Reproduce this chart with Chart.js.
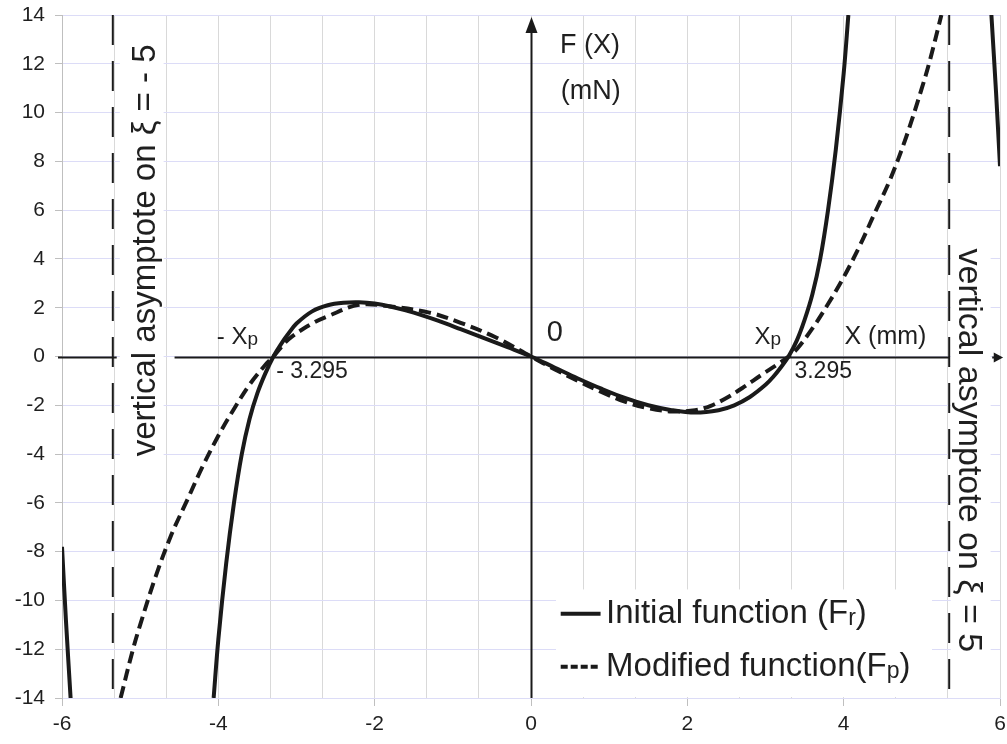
<!DOCTYPE html>
<html>
<head>
<meta charset="utf-8">
<script src="https://cdn.jsdelivr.net/npm/chart.js@4.4.1/dist/chart.umd.min.js"></script>
<style>
html,body{margin:0;padding:0;background:#fff;}
#wrap{width:1007px;height:744px;position:relative;}
</style>
</head>
<body>
<div id="wrap"><canvas id="c"></canvas></div>
<script>
// ---------- data ----------
const xTickValues = [-6, -4, -2, 0, 2, 4, 6];
const xTickLabels = ['-6', '-4', '-2', '0', '2', '4', '6'];
const xGridStep = 2 / 3;
const yTickValues = [-14, -12, -10, -8, -6, -4, -2, 0, 2, 4, 6, 8, 10, 12, 14];
const yTickLabels = ['-14', '-12', '-10', '-8', '-6', '-4', '-2', '0', '2', '4', '6', '8', '10', '12', '14'];
const asymptoteX = [-5.35, 5.35];

// Initial function (Fr) – central branch
const initialMidX = [-4.06, -4.0, -3.9, -3.8, -3.7, -3.6, -3.5, -3.4, -3.295, -3.2, -3.1, -3.0, -2.8, -2.6, -2.4, -2.2, -2.0, -1.8, -1.5, -1.2, -0.9, -0.6, -0.3, 0,
                     0.3, 0.6, 0.9, 1.2, 1.5, 1.8, 2.1, 2.4, 2.6, 2.8, 3.0, 3.1, 3.2, 3.295, 3.4, 3.5, 3.6, 3.7, 3.8, 3.9, 4.0, 4.06];
const initialMidY = [-14, -11.6, -8.5, -6.0, -4.0, -2.55, -1.5, -0.7, 0, 0.5, 0.95, 1.35, 1.85, 2.1, 2.2, 2.22, 2.17, 2.05, 1.8, 1.48, 1.12, 0.75, 0.38, 0,
                     -0.45, -0.9, -1.32, -1.7, -2.0, -2.2, -2.3, -2.2, -2.0, -1.66, -1.16, -0.83, -0.43, 0, 0.65, 1.5, 2.55, 4.0, 6.0, 8.5, 11.6, 14];
// Initial function – outer branches beyond the asymptotes
const initialLeftX = [-6.0, -5.95, -5.89];
const initialLeftY = [-7.8, -10.8, -14];
const initialRightX = [5.89, 5.95, 6.0];
const initialRightY = [14, 10.8, 7.8];

// Modified function (Fp)
const modifiedX = [-5.25, -5.1, -5.0, -4.8, -4.6, -4.4, -4.2, -4.0, -3.8, -3.6, -3.4, -3.295, -3.1, -2.8, -2.6, -2.2, -1.8, -1.3, -0.9, -0.46, 0,
                   0.3, 0.6, 0.9, 1.2, 1.5, 1.8, 2.1, 2.3, 2.5, 2.7, 2.95, 3.15, 3.295, 3.4, 3.6, 3.8, 4.0, 4.2, 4.4, 4.6, 4.8, 5.0, 5.1, 5.25];
const modifiedY = [-14, -12.1, -11.0, -9.0, -7.3, -5.9, -4.5, -3.25, -2.15, -1.15, -0.35, 0, 0.71, 1.35, 1.65, 2.12, 2.05, 1.8, 1.38, 0.8, 0,
                   -0.52, -1.0, -1.45, -1.85, -2.12, -2.25, -2.2, -2.02, -1.7, -1.3, -0.75, -0.33, 0, 0.3, 1.15, 2.15, 3.25, 4.5, 5.9, 7.3, 9.0, 11.0, 12.1, 14];

const legendLabels = ['Initial function (F', 'Modified function(F'];
const legendSubs = ['r', 'p'];

const FONT = "'Liberation Sans', Arial, sans-serif";
const TEXT = '#1f1f1f';
const INK = '#1a1a1a';

function pts(xs, ys) { return xs.map((x, i) => ({ x: x, y: ys[i] })); }

const gridValues = [];
for (let i = 0; i <= 18; i++) gridValues.push(-6 + i * xGridStep);

function isLabelled(v) { return xTickValues.some(t => Math.abs(t - v) < 1e-6); }

// ---------- annotation plugin ----------
function runs(ctx, x, y, parts, align) {
  let total = 0;
  parts.forEach(p => { ctx.font = p[1] + 'px ' + FONT; total += ctx.measureText(p[0]).width; });
  let cx = align === 'center' ? x - total / 2 : x;
  parts.forEach(p => {
    ctx.font = p[1] + 'px ' + FONT;
    ctx.textAlign = 'left';
    ctx.fillText(p[0], cx, y + (p[2] || 0));
    cx += ctx.measureText(p[0]).width;
  });
}

const annot = {
  id: 'annot',
  beforeDatasetsDraw(chart) {
    const ctx = chart.ctx, xs = chart.scales.x, ys = chart.scales.y, a = chart.chartArea;
    const X = v => xs.getPixelForValue(v), Y = v => ys.getPixelForValue(v);
    ctx.save();
    ctx.fillStyle = '#ffffff';
    // legend box
    ctx.fillRect(X(0.32), Y(-9.55), X(5.13) - X(0.32), Y(-13.96) - Y(-9.55));
    // rotated label boxes
    ctx.fillRect(X(-5.26), Y(13.3), X(-4.7) - X(-5.26), Y(-4.6) - Y(13.3));
    ctx.fillRect(X(5.37), Y(4.8), X(5.88) - X(5.37), Y(-12.5) - Y(4.8));

    // asymptotes
    ctx.strokeStyle = INK;
    ctx.lineWidth = 2;
    ctx.setLineDash([30, 16]);
    asymptoteX.forEach(v => {
      ctx.beginPath();
      ctx.moveTo(X(v), a.top);
      ctx.lineTo(X(v), a.bottom);
      ctx.stroke();
    });
    ctx.setLineDash([]);

    // horizontal axis (y = 0) with gaps for the labels
    const y0 = Math.round(Y(0)) + 0.5;
    ctx.lineWidth = 2;
    ctx.beginPath();
    ctx.moveTo(a.left - 4, y0); ctx.lineTo(X(-5.3), y0);
    ctx.moveTo(X(-4.56), y0); ctx.lineTo(X(5.35), y0);
    ctx.moveTo(X(5.9), y0); ctx.lineTo(X(5.96), y0);
    ctx.stroke();
    ctx.fillStyle = INK;
    ctx.beginPath();
    ctx.moveTo(X(5.92), y0 - 5); ctx.lineTo(X(6.04), y0); ctx.lineTo(X(5.92), y0 + 5); ctx.closePath();
    ctx.fill();

    // vertical axis (x = 0) with arrow
    const x0 = Math.round(X(0)) + 0.5;
    ctx.beginPath();
    ctx.moveTo(x0, a.bottom); ctx.lineTo(x0, a.top + 12);
    ctx.stroke();
    ctx.beginPath();
    ctx.moveTo(x0 - 6, a.top + 18); ctx.lineTo(x0, a.top + 2); ctx.lineTo(x0 + 6, a.top + 18); ctx.closePath();
    ctx.fill();
    ctx.restore();
  },
  afterDraw(chart) {
    const ctx = chart.ctx, xs = chart.scales.x, ys = chart.scales.y;
    const X = v => xs.getPixelForValue(v), Y = v => ys.getPixelForValue(v);
    ctx.save();
    ctx.fillStyle = TEXT;
    ctx.textBaseline = 'middle';

    runs(ctx, X(0.37), Y(12.75), [['F (X)', 27]], 'left');
    runs(ctx, X(0.38), Y(10.85), [['(mN)', 27]], 'left');
    runs(ctx, X(0.2), Y(0.95), [['0', 29]], 'left');
    runs(ctx, X(-4.02), Y(0.8), [['- X', 24], ['p', 19, 3]], 'left');
    runs(ctx, X(-3.26), Y(-0.62), [['- 3.295', 23]], 'left');
    runs(ctx, X(2.86), Y(0.8), [['X', 24], ['p', 19, 3]], 'left');
    runs(ctx, X(4.01), Y(0.8), [['X (mm)', 25]], 'left');
    runs(ctx, X(3.37), Y(-0.62), [['3.295', 23]], 'left');

    // rotated labels
    ctx.save();
    ctx.translate(X(-4.93), Y(4.35));
    ctx.rotate(-Math.PI / 2);
    ctx.font = '33px ' + FONT;
    ctx.textAlign = 'center';
    ctx.fillText('vertical asymptote on \u03BE = - 5', 0, 0);
    ctx.restore();

    ctx.save();
    ctx.translate(X(5.6), Y(-3.85));
    ctx.rotate(Math.PI / 2);
    ctx.font = '34px ' + FONT;
    ctx.textAlign = 'center';
    ctx.fillText('vertical asymptote on \u03BE = 5', 0, 0);
    ctx.restore();

    // legend
    const lx0 = X(0.38), lx1 = X(0.89), tx = X(0.96);
    const ly = [Y(-10.55), Y(-12.72)];
    ctx.strokeStyle = INK;
    ctx.lineWidth = 4;
    ctx.beginPath(); ctx.moveTo(lx0, ly[0]); ctx.lineTo(lx1, ly[0]); ctx.stroke();
    ctx.setLineDash([7, 3]);
    ctx.beginPath(); ctx.moveTo(lx0, ly[1]); ctx.lineTo(lx1, ly[1]); ctx.stroke();
    ctx.setLineDash([]);
    runs(ctx, tx, ly[0], [[legendLabels[0], 33], [legendSubs[0], 23, 5], [')', 33]], 'left');
    runs(ctx, tx, ly[1], [[legendLabels[1], 33], [legendSubs[1], 23, 5], [')', 33]], 'left');
    ctx.restore();
  }
};

Chart.defaults.font.family = FONT;

const lineStyle = { showLine: true, borderColor: INK, borderWidth: 4, pointRadius: 0, tension: 0.35 };

new Chart(document.getElementById('c'), {
  type: 'scatter',
  data: {
    datasets: [
      Object.assign({ label: 'Initial function (Fr)', data: pts(initialMidX, initialMidY) }, lineStyle),
      Object.assign({ label: 'Initial left', data: pts(initialLeftX, initialLeftY) }, lineStyle),
      Object.assign({ label: 'Initial right', data: pts(initialRightX, initialRightY) }, lineStyle),
      Object.assign({ label: 'Modified function (Fp)', data: pts(modifiedX, modifiedY), borderDash: [12, 6] }, lineStyle)
    ]
  },
  options: {
    responsive: true,
    maintainAspectRatio: false,
    animation: false,
    events: [],
    layout: { padding: { top: 15, right: 7, left: 0, bottom: 0 } },
    plugins: { legend: { display: false }, tooltip: { enabled: false } },
    scales: {
      x: {
        type: 'linear', min: -6, max: 6,
        afterBuildTicks: s => { s.ticks = gridValues.map(v => ({ value: v })); },
        afterFit: s => { s.height = 46; s.paddingLeft = 0; s.paddingRight = 0; },
        ticks: {
          autoSkip: false, maxRotation: 0, padding: 6,
          color: TEXT, font: { size: 21 },
          callback: v => { const i = xTickValues.findIndex(t => Math.abs(t - v) < 1e-6); return i >= 0 ? xTickLabels[i] : ''; }
        },
        grid: {
          color: '#d9d9d9', lineWidth: 1, drawTicks: true, tickLength: 8,
          tickColor: c => (c.tick && isLabelled(c.tick.value)) ? '#bfbfbf' : 'rgba(0,0,0,0)'
        },
        border: { color: '#dcdcf7', width: 1 }
      },
      y: {
        type: 'linear', min: -14, max: 14,
        afterBuildTicks: s => { s.ticks = yTickValues.map(v => ({ value: v })); },
        afterFit: s => { s.width = 62; s.paddingTop = 0; s.paddingBottom = 0; },
        ticks: {
          autoSkip: false, padding: 10, color: TEXT, font: { size: 21 },
          callback: (v, i) => yTickLabels[i]
        },
        grid: { color: '#dcdcf7', lineWidth: 1, drawTicks: true, tickLength: 7, tickColor: '#bfbfbf' },
        border: { color: '#bfbfbf', width: 1 }
      }
    }
  },
  plugins: [annot]
});
</script>
</body>
</html>
